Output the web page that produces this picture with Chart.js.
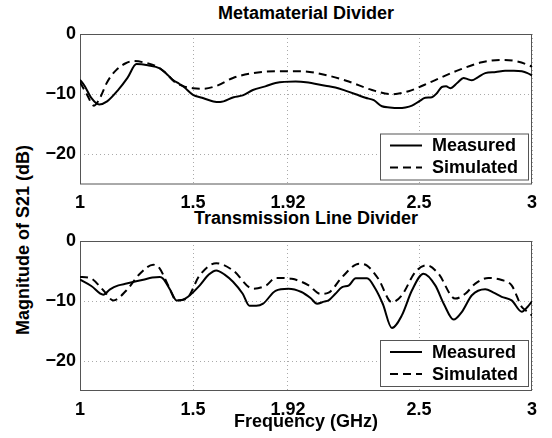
<!DOCTYPE html>
<html>
<head>
<meta charset="utf-8">
<script src="https://cdn.jsdelivr.net/npm/chart.js@4.4.1/dist/chart.umd.min.js"></script>
<style>
body { margin: 0; background: #fff; width: 552px; height: 438px; position: relative; overflow: hidden;
       font-family: "Liberation Sans", Arial, sans-serif; font-weight: bold; color: #000; }
canvas { position: absolute; left: 0; }
#topChart { top: 0; }
#bottomChart { top: 219px; }
.plot-title { position: absolute; left: 80px; width: 452px; text-align: center; font-size: 18px; line-height: 18px; }
#ylabel { position: absolute; left: -127px; top: 231px; width: 300px; text-align: center; font-size: 18px;
          line-height: 18px; transform: rotate(-90deg); }
</style>
</head>
<body>
<div class="plot-title" style="top:4px">Metamaterial Divider</div>
<div class="plot-title" style="top:209px">Transmission Line Divider</div>
<div id="ylabel">Magnitude of S21 (dB)</div>
<canvas id="topChart" width="552" height="219"></canvas>
<canvas id="bottomChart" width="552" height="219"></canvas>
<script>
// Axis ticks
const freqTicks = [1, 1.5, 1.92, 2.5, 3];
const magTicks = [-20, -10, 0];
const seriesNames = ['Measured', 'Simulated'];

// Metamaterial divider, measured
const metaMeasFreq = [1.0, 1.02, 1.05, 1.085, 1.12, 1.17, 1.21, 1.25, 1.3, 1.353, 1.38, 1.41, 1.44, 1.46, 1.5, 1.54,
    1.59, 1.62, 1.68, 1.72, 1.765, 1.82, 1.865, 1.954, 2.0, 2.086, 2.13, 2.174, 2.22, 2.263, 2.3, 2.336, 2.37, 2.41,
    2.44, 2.469, 2.5, 2.528, 2.557, 2.58, 2.601, 2.62, 2.638, 2.67, 2.697, 2.715, 2.734, 2.76, 2.793, 2.84, 2.881,
    2.92, 2.955, 2.98, 3.0];
const metaMeasMag = [-7.6, -8.6, -10.6, -11.7, -11.2, -9.25, -7.3, -5.0, -5.2, -5.7, -6.5, -7.6, -8.3, -8.8, -10.1, -10.6,
    -11.2, -11.3, -10.5, -10.2, -9.3, -8.7, -8.15, -7.9, -8.0, -8.6, -8.9, -9.4, -10.0, -10.6, -11.0, -12.0, -12.2, -12.3,
    -12.2, -11.9, -11.2, -10.6, -10.5, -9.8, -8.8, -8.7, -9.0, -8.1, -7.3, -7.5, -7.7, -7.2, -6.5, -6.3, -6.1,
    -6.1, -6.2, -6.5, -6.9];

// Metamaterial divider, simulated
const metaSimFreq = [1.0, 1.03, 1.062, 1.09, 1.12, 1.16, 1.2, 1.235, 1.28, 1.34, 1.38, 1.42, 1.46, 1.5, 1.545, 1.605,
    1.677, 1.765, 1.865, 1.983, 2.086, 2.189, 2.292, 2.38, 2.454, 2.557, 2.675, 2.778, 2.866, 2.94, 3.0];
const metaSimMag = [-8.0, -10.0, -11.9, -10.5, -8.0, -6.0, -4.9, -4.5, -4.7, -5.4, -6.5, -8.0, -8.7, -9.0, -9.1, -8.6,
    -7.3, -6.5, -6.2, -6.2, -6.8, -7.9, -9.3, -10.0, -9.5, -7.9, -6.0, -4.7, -4.3, -4.6, -5.4];

// Transmission line divider, measured
const tlMeasFreq = [1.0, 1.05, 1.103, 1.133, 1.17, 1.206, 1.28, 1.32, 1.353, 1.368, 1.4, 1.427, 1.455, 1.478, 1.53,
    1.57, 1.603, 1.64, 1.677, 1.72, 1.75, 1.78, 1.81, 1.865, 1.922, 1.98, 2.02, 2.049, 2.08, 2.1, 2.13, 2.16, 2.19,
    2.22, 2.27, 2.307, 2.34, 2.38, 2.424, 2.469, 2.52, 2.572, 2.61, 2.653, 2.69, 2.734, 2.793, 2.83, 2.866, 2.91,
    2.955, 2.98, 3.0];
const tlMeasMag = [-6.45, -7.5, -8.95, -8.05, -7.4, -7.1, -6.45, -6.1, -6.0, -6.3, -8.2, -9.9, -9.8, -9.3, -7.4,
    -5.6, -4.9, -5.6, -6.8, -8.8, -10.8, -10.8, -10.45, -8.3, -7.95, -8.5, -9.5, -10.45, -10.1, -9.9, -8.8, -7.7, -7.4,
    -6.2, -6.2, -7.95, -10.5, -14.5, -12.4, -8.2, -5.45, -7.4, -10.5, -13.1, -11.8, -9.05, -8.05, -8.6, -9.3, -9.9,
    -11.8, -11.0, -10.05];

// Transmission line divider, simulated
const tlSimFreq = [1.0, 1.044, 1.103, 1.147, 1.206, 1.265, 1.324, 1.353, 1.39, 1.427, 1.47, 1.53, 1.603, 1.677, 1.765,
    1.824, 1.865, 1.937, 2.012, 2.064, 2.1, 2.16, 2.235, 2.27, 2.32, 2.38, 2.424, 2.483, 2.535, 2.586, 2.66, 2.705,
    2.749, 2.807, 2.866, 2.91, 2.955, 2.97, 3.0];
const tlSimMag = [-6.0, -6.15, -8.2, -9.9, -8.2, -5.45, -3.95, -4.6, -7.4, -9.9, -9.65, -5.7, -3.7, -4.9, -7.95,
    -7.4, -6.15, -6.3, -7.4, -8.8, -8.6, -6.0, -3.8, -4.1, -6.3, -10.2, -9.05, -5.2, -4.05, -5.45, -9.6, -8.8,
    -7.1, -6.15, -6.5, -7.4, -11.0, -11.5, -12.4];

const FONT = { family: '"Liberation Sans", Arial, sans-serif', size: 18, weight: 'bold' };

function toPoints(xs, ys) {
    return xs.map((x, i) => ({ x: x, y: ys[i] }));
}

// Box around the plot area
const framePlugin = {
    id: 'frame',
    beforeDatasetsDraw(chart) {
        const a = chart.chartArea;
        const ctx = chart.ctx;
        ctx.save();
        ctx.strokeStyle = '#555';
        ctx.lineWidth = 1;
        ctx.strokeRect(a.left + 0.5, a.top + 0.5, a.right - a.left - 1, a.bottom - a.top - 1);
        ctx.restore();
    }
};

// Legend box in the lower right corner
const boxLegendPlugin = {
    id: 'boxLegend',
    afterDatasetsDraw(chart) {
        const a = chart.chartArea;
        const ctx = chart.ctx;
        const w = 148, h = 46;
        const x0 = a.right - 4 - w, y0 = a.bottom - 5 - h;
        ctx.save();
        ctx.fillStyle = '#fff';
        ctx.fillRect(x0, y0, w, h);
        ctx.strokeStyle = '#555';
        ctx.lineWidth = 1;
        ctx.strokeRect(x0 + 0.5, y0 + 0.5, w, h);
        ctx.font = 'bold 18px "Liberation Sans", Arial, sans-serif';
        ctx.textBaseline = 'middle';
        ctx.fillStyle = '#000';
        chart.data.datasets.forEach((ds, i) => {
            const y = y0 + 12 + i * 22;
            ctx.beginPath();
            ctx.setLineDash(ds.borderDash || []);
            ctx.lineWidth = 2;
            ctx.strokeStyle = '#000';
            ctx.moveTo(x0 + 10, y);
            ctx.lineTo(x0 + 42, y);
            ctx.stroke();
            ctx.setLineDash([]);
            ctx.fillText(ds.label, x0 + 52, y + 1);
        });
        ctx.restore();
    }
};

function makeChart(id, measFreq, measMag, simFreq, simMag, opts) {
    const ctx = document.getElementById(id).getContext('2d');
    return new Chart(ctx, {
        type: 'line',
        data: {
            datasets: [{
                label: seriesNames[0],
                data: toPoints(measFreq, measMag),
                borderColor: '#000',
                borderWidth: 2,
                pointRadius: 0,
                cubicInterpolationMode: 'monotone'
            }, {
                label: seriesNames[1],
                data: toPoints(simFreq, simMag),
                borderColor: '#000',
                borderWidth: 2,
                borderDash: [8, 5],
                pointRadius: 0,
                cubicInterpolationMode: 'monotone'
            }]
        },
        options: {
            responsive: false,
            animation: false,
            layout: { padding: { top: opts.top, right: 20, left: 0, bottom: 0 } },
            plugins: { legend: { display: false }, tooltip: { enabled: false } },
            scales: {
                x: {
                    type: 'linear',
                    min: 1,
                    max: 3,
                    afterBuildTicks: (scale) => { scale.ticks = freqTicks.map(v => ({ value: v })); },
                    afterFit: (scale) => { scale.height = opts.xHeight; },
                    ticks: {
                        padding: 8,
                        color: '#000',
                        font: FONT,
                        maxRotation: 0,
                        callback: (v) => String(v)
                    },
                    grid: { color: '#aaa', drawTicks: false, tickBorderDash: [1, 3] },
                    border: { display: false, dash: [1, 3] },
                    title: {
                        display: opts.xTitle,
                        text: 'Frequency (GHz)',
                        color: '#000',
                        font: FONT,
                        padding: { top: 0, bottom: 5 }
                    }
                },
                y: {
                    min: -25,
                    max: 0,
                    afterBuildTicks: (scale) => { scale.ticks = magTicks.map(v => ({ value: v })); },
                    afterFit: (scale) => { scale.width = 80; },
                    ticks: {
                        padding: 4,
                        color: '#000',
                        font: FONT,
                        callback: (v) => String(v).replace('-', '\u2212')
                    },
                    grid: { color: '#aaa', drawTicks: false },
                    border: { display: false, dash: [1, 3] }
                }
            }
        },
        plugins: [framePlugin, boxLegendPlugin]
    });
}

// dotted grid lines
Chart.defaults.scale.border.dash = [1, 3];

makeChart('topChart', metaMeasFreq, metaMeasMag, metaSimFreq, metaSimMag,
    { top: 34, xHeight: 34.5, xTitle: false });
makeChart('bottomChart', tlMeasFreq, tlMeasMag, tlSimFreq, tlSimMag,
    { top: 22, xHeight: 47, xTitle: true });
</script>
</body>
</html>
